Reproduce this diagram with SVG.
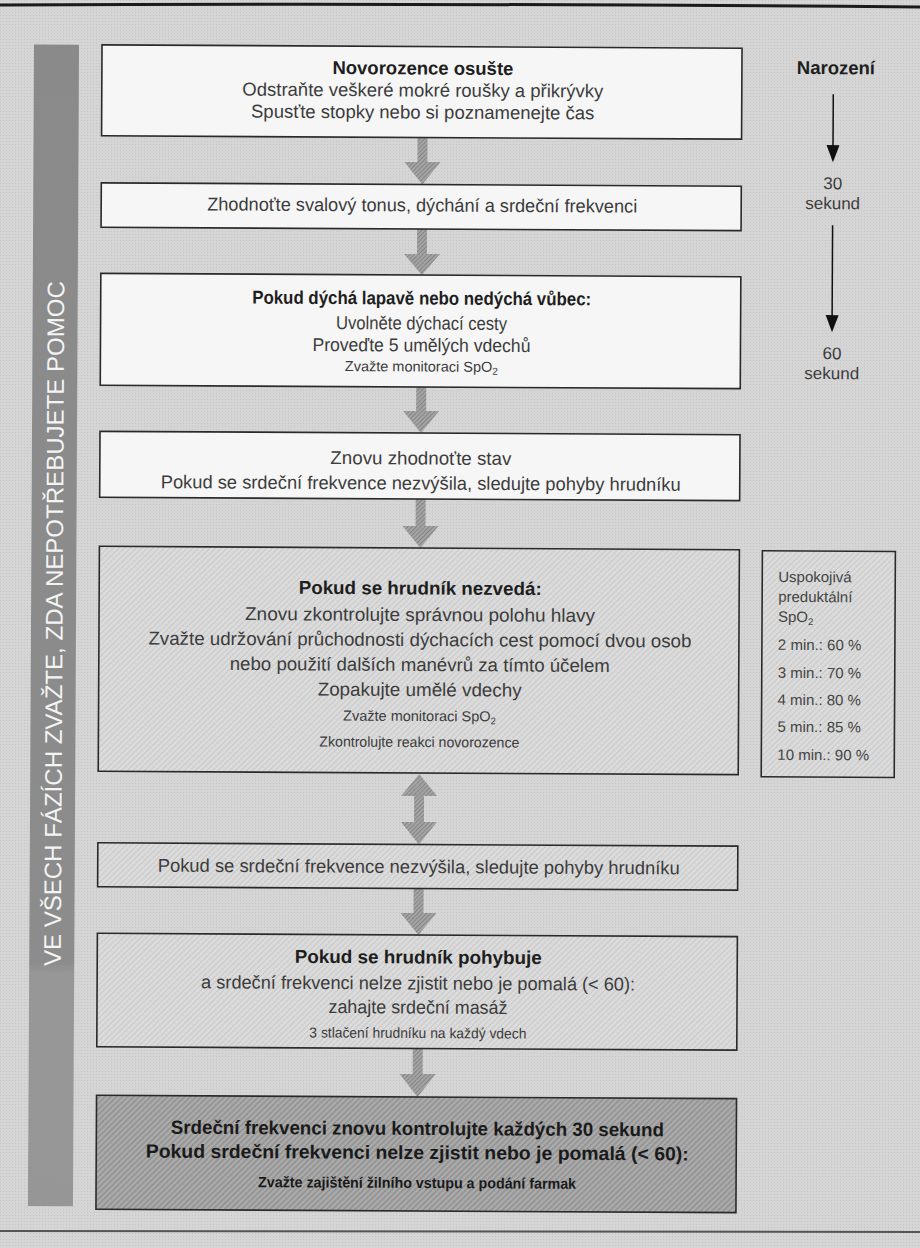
<svg xmlns="http://www.w3.org/2000/svg" width="920" height="1248" viewBox="0 0 920 1248">
<defs>
  <pattern id="bg" width="3" height="3" patternUnits="userSpaceOnUse">
    <rect width="3" height="3" fill="#d5d5d5"/>
    <rect width="1" height="1" fill="#c6c6c6"/>
  </pattern>
  <pattern id="hL" width="4" height="4" patternUnits="userSpaceOnUse" patternTransform="rotate(45)">
    <rect width="4" height="4" fill="#dbdbdb"/>
    <rect width="1" height="4" fill="#c8c8c8"/>
  </pattern>
  <pattern id="hD" width="4" height="4" patternUnits="userSpaceOnUse" patternTransform="rotate(45)">
    <rect width="4" height="4" fill="#ababab"/>
    <rect width="1.4" height="4" fill="#8e8e8e"/>
  </pattern>
  <pattern id="hA" width="3" height="3" patternUnits="userSpaceOnUse" patternTransform="rotate(45)">
    <rect width="3" height="3" fill="#a4a4a4"/>
    <rect width="1" height="3" fill="#858585"/>
  </pattern>
  <linearGradient id="barG" x1="0" y1="0" x2="0" y2="1">
    <stop offset="0" stop-color="#8a8a8a"/>
    <stop offset="0.79" stop-color="#8c8c8c"/>
    <stop offset="0.80" stop-color="#979797"/>
    <stop offset="1" stop-color="#969696"/>
  </linearGradient>
</defs>
<style>
  text { font-family: "Liberation Sans", Arial, sans-serif; }
  .box { stroke: #2a2a2a; stroke-width: 1.6; }
  .white { fill: #f6f6f6; }
  .light { fill: url(#hL); }
  .dark { fill: url(#hD); }
  .r { font-size: 18.5px; fill: #3c3c3c; text-anchor: middle; }
  .b { font-size: 18.5px; font-weight: bold; fill: #1e1e1e; text-anchor: middle; }
  .s { font-size: 14.5px; fill: #3c3c3c; text-anchor: middle; }
  .b8 { font-size: 19px; font-weight: bold; fill: #1a1a1a; text-anchor: middle; }
  .b8s { font-size: 15px; font-weight: bold; fill: #1a1a1a; text-anchor: middle; }
  .t { font-size: 17px; fill: #3c3c3c; text-anchor: middle; }
  .sp { font-size: 15px; fill: #444; }
  .arrow { fill: url(#hA); }
  .tl { stroke: #111; stroke-width: 1.5; fill: none; }
  .head { fill: #111; }
</style>

<rect x="0" y="0" width="920" height="1248" fill="url(#bg)"/>
<path d="M0,5 Q460,3 920,7" stroke="#1a1a1a" stroke-width="3" fill="none"/>
<path d="M0,1231 L920,1232" stroke="#555" stroke-width="2" fill="none"/>

<g transform="rotate(0.3 420 625)">
  <g id="side-bar">
    <rect x="31" y="46.5" width="45" height="1161.5" fill="url(#barG)"/>
    <text transform="translate(62.5,625.5) rotate(-90)" text-anchor="middle" font-size="24" fill="#f4f4f4" textLength="685" lengthAdjust="spacingAndGlyphs">VE VŠECH FÁZÍCH ZVAŽTE, ZDA NEPOTŘEBUJETE POMOC</text>
  </g>

  <g id="connectors">
    <path class="arrow" d="M415,137.5 H425 V162 H438 L420,184.5 L402,162 H415 Z"/>
    <path class="arrow" d="M415,229 H425 V254 H438 L420,275 L402,254 H415 Z"/>
    <path class="arrow" d="M415,387 H425 V411 H438 L420,433 L402,411 H415 Z"/>
    <path class="arrow" d="M415,499 H425 V526 H438 L420,548 L402,526 H415 Z"/>
    <path class="arrow" d="M420,774 L438,796 H425 V822 H438 L420,844.5 L402,822 H415 V796 H402 Z"/>
    <path class="arrow" d="M415,888.5 H425 V913 H438 L420,935 L402,913 H415 Z"/>
    <path class="arrow" d="M415,1048.5 H425 V1074 H438 L420,1097 L402,1074 H415 Z"/>
    <line class="tl" x1="830.5" y1="92" x2="830.5" y2="145"/>
    <path class="head" d="M824,143 L837,143 L830.5,160 Z"/>
    <line class="tl" x1="830.5" y1="223" x2="830.5" y2="315"/>
    <path class="head" d="M824,313 L837,313 L830.5,330 Z"/>
  </g>

  <g id="n1">
    <rect class="box white" x="99" y="46.5" width="640" height="91"/>
    <text class="b" x="420" y="74.5">Novorozence osušte</text>
    <text class="r" x="420" y="96.5">Odstraňte veškeré mokré roušky a přikrývky</text>
    <text class="r" x="420" y="118.5">Spusťte stopky nebo si poznamenejte čas</text>
  </g>

  <g id="n2">
    <rect class="box white" x="99" y="184.5" width="640" height="44.5"/>
    <text class="r" x="420" y="211.5" textLength="430" lengthAdjust="spacingAndGlyphs">Zhodnoťte svalový tonus, dýchání a srdeční frekvenci</text>
  </g>

  <g id="n3">
    <rect class="box white" x="99" y="275" width="640" height="112"/>
    <text class="b" x="420" y="304.5" textLength="339" lengthAdjust="spacingAndGlyphs">Pokud dýchá lapavě nebo nedýchá vůbec:</text>
    <text class="r" x="420" y="329.5" textLength="171" lengthAdjust="spacingAndGlyphs">Uvolněte dýchací cesty</text>
    <text class="r" x="420" y="351.5" textLength="218" lengthAdjust="spacingAndGlyphs">Proveďte 5 umělých vdechů</text>
    <text class="s" x="420" y="371.5" font-size="15.5">Zvažte monitoraci SpO<tspan font-size="10" dy="3">2</tspan></text>
  </g>

  <g id="n4">
    <rect class="box white" x="99" y="433" width="640" height="66"/>
    <text class="r" x="420" y="464.5" textLength="181" lengthAdjust="spacingAndGlyphs">Znovu zhodnoťte stav</text>
    <text class="r" x="420" y="489.5" textLength="520" lengthAdjust="spacingAndGlyphs">Pokud se srdeční frekvence nezvýšila, sledujte pohyby hrudníku</text>
  </g>

  <g id="n5">
    <rect class="box light" x="99" y="548" width="640" height="225"/>
    <text class="b" x="420" y="594.5" textLength="243" lengthAdjust="spacingAndGlyphs">Pokud se hrudník nezvedá:</text>
    <text class="r" x="420" y="621" textLength="350" lengthAdjust="spacingAndGlyphs">Znovu zkontrolujte správnou polohu hlavy</text>
    <text class="r" x="420" y="646" textLength="543" lengthAdjust="spacingAndGlyphs">Zvažte udržování průchodnosti dýchacích cest pomocí dvou osob</text>
    <text class="r" x="420" y="671" textLength="380" lengthAdjust="spacingAndGlyphs">nebo použití dalších manévrů za tímto účelem</text>
    <text class="r" x="420" y="696" textLength="204" lengthAdjust="spacingAndGlyphs">Zopakujte umělé vdechy</text>
    <text class="s" x="420" y="721">Zvažte monitoraci SpO<tspan font-size="9.5" dy="3">2</tspan></text>
    <text class="s" x="420" y="747" textLength="200" lengthAdjust="spacingAndGlyphs">Zkontrolujte reakci novorozence</text>
  </g>

  <g id="n-spo2">
    <rect class="box light" x="762" y="549" width="133" height="226"/>
    <text class="sp" x="778" y="580">Uspokojivá</text>
    <text class="sp" x="778" y="600">preduktální</text>
    <text class="sp" x="778" y="620">SpO<tspan font-size="9.5" dy="3">2</tspan></text>
    <text class="sp" x="778" y="648">2 min.: 60 %</text>
    <text class="sp" x="778" y="676">3 min.: 70 %</text>
    <text class="sp" x="778" y="703">4 min.: 80 %</text>
    <text class="sp" x="778" y="730">5 min.: 85 %</text>
    <text class="sp" x="778" y="758">10 min.: 90 %</text>
  </g>

  <g id="n6">
    <rect class="box light" x="99" y="844.5" width="640" height="44"/>
    <text class="r" x="420" y="873" textLength="522" lengthAdjust="spacingAndGlyphs">Pokud se srdeční frekvence nezvýšila, sledujte pohyby hrudníku</text>
  </g>

  <g id="n7">
    <rect class="box light" x="99" y="935" width="640" height="113.5"/>
    <text class="b" x="420" y="963.5" textLength="247" lengthAdjust="spacingAndGlyphs">Pokud se hrudník pohybuje</text>
    <text class="r" x="420" y="989.5" textLength="434" lengthAdjust="spacingAndGlyphs">a srdeční frekvenci nelze zjistit nebo je pomalá (&lt; 60):</text>
    <text class="r" x="420" y="1013.5" textLength="179" lengthAdjust="spacingAndGlyphs">zahajte srdeční masáž</text>
    <text class="s" x="420" y="1038" textLength="217" lengthAdjust="spacingAndGlyphs">3 stlačení hrudníku na každý vdech</text>
  </g>

  <g id="n8">
    <rect class="box dark" x="99" y="1097" width="640" height="114"/>
    <text class="b8" x="420" y="1135" textLength="493" lengthAdjust="spacingAndGlyphs">Srdeční frekvenci znovu kontrolujte každých 30 sekund</text>
    <text class="b8" x="420" y="1159" textLength="543" lengthAdjust="spacingAndGlyphs">Pokud srdeční frekvenci nelze zjistit nebo je pomalá (&lt; 60):</text>
    <text class="b8s" x="420" y="1188" textLength="318" lengthAdjust="spacingAndGlyphs">Zvažte zajištění žilního vstupu a podání farmak</text>
  </g>

  <g id="timeline">
    <text class="b" x="833" y="72">Narození</text>
    <text class="t" x="830.5" y="187">30</text>
    <text class="t" x="830.5" y="207">sekund</text>
    <text class="t" x="830.5" y="357">60</text>
    <text class="t" x="830.5" y="377">sekund</text>
  </g>
</g>
</svg>
